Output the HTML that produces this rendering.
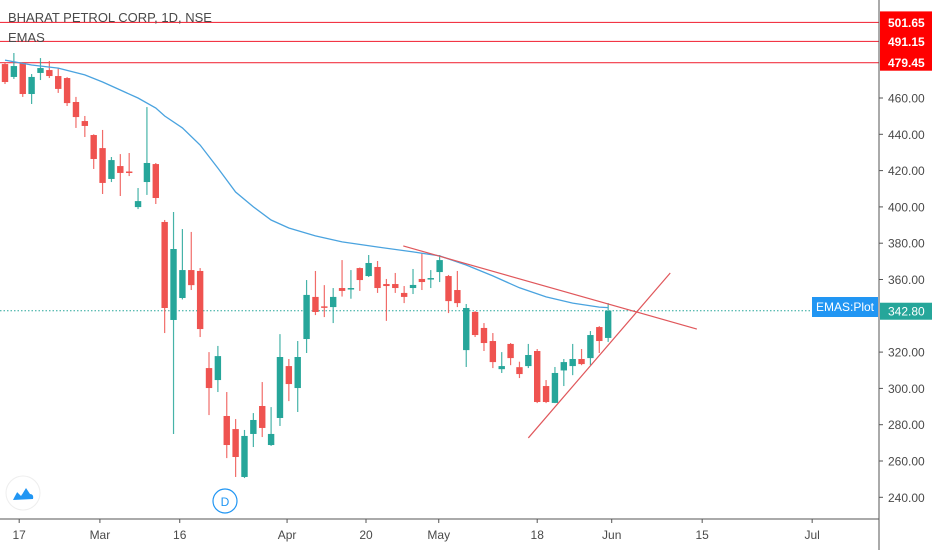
<!DOCTYPE html>
<html><head><meta charset="utf-8">
<style>
html,body{margin:0;padding:0;background:#fff;}
svg{display:block;font-family:"Liberation Sans",sans-serif;}
</style></head>
<body>
<svg id="chart" width="932" height="550" viewBox="0 0 932 550" xmlns="http://www.w3.org/2000/svg">
<rect x="0" y="0" width="932" height="550" fill="#ffffff"/>
<g id="plot"></g>
<g id="axes"></g>
<text x="8" y="22" font-size="13" fill="#4a4a4a">BHARAT PETROL CORP, 1D, NSE</text>
<text x="8" y="42" font-size="13" fill="#4a4a4a">EMAS</text>
<g>
<circle cx="23" cy="493" r="17" fill="#fff" stroke="#eeeeee" stroke-width="1"/>
<path d="M13 500 L17 492 L21 496 L26 488 L30 494 Q34 494 33 499 Z" fill="#2196f3"/>
<path d="M14 496 L18 489 L22 493 L26 486 L31 493" fill="none" stroke="#fff" stroke-width="1.6"/>
</g>
<g>
<circle cx="225" cy="501" r="12" fill="#fff" stroke="#2196f3" stroke-width="1.2"/>
<text x="225" y="506" font-size="12" fill="#2196f3" text-anchor="middle">D</text>
</g>
</svg>
<script>
// ---- data ----
const opens  = [478.7,471.6,479.3,462.2,473.8,475.4,472.1,471.0,457.8,447.3,439.6,432.4,415.4,422.5,419.5,399.9,413.7,423.6,391.7,337.7,349.8,365.2,364.7,311.2,304.6,284.8,277.6,251.2,274.9,290.3,268.8,283.7,312.3,300.2,327.2,350.4,345.2,344.8,355.3,354.7,366.3,361.9,366.9,357.5,357.5,352.6,355.3,360.3,360.3,364.1,361.9,354.2,321.1,342.1,333.3,326.1,310.6,324.5,311.7,312.3,320.6,301.3,292.0,309.9,312.3,316.2,316.7,333.8,327.8];
const highs  = [479.8,484.8,479.8,473.2,482.0,480.4,476.5,471.5,460.6,450.1,440.0,442.4,427.5,429.1,429.7,410.4,455.0,424.2,392.8,397.2,387.8,386.2,366.3,320.0,323.4,298.0,283.1,277.1,286.4,303.5,289.7,329.9,316.2,326.1,359.7,364.7,356.9,355.3,370.7,365.2,366.6,373.5,370.2,360.3,363.6,356.4,365.8,374.6,365.2,373.5,362.5,364.7,346.5,342.6,336.0,330.5,320.0,325.0,314.7,324.5,321.7,304.6,311.8,316.2,324.5,321.7,331.6,334.3,347.0];
const lows   = [467.7,470.5,460.6,456.7,469.9,471.0,462.8,455.6,443.5,438.5,420.9,407.1,413.7,406.0,417.0,398.8,406.6,401.6,330.5,274.9,349.0,354.2,328.3,285.3,298.0,261.6,251.2,250.6,267.7,273.2,268.3,279.3,293.0,287.0,319.5,340.4,339.3,336.0,350.6,349.4,353.7,361.4,352.6,337.2,352.6,347.0,352.0,354.2,355.3,358.6,341.5,344.8,311.8,328.3,320.6,311.2,308.5,312.8,305.7,311.2,291.9,291.9,291.9,301.3,307.3,312.8,312.8,319.5,325.6];
const closes = [468.8,477.6,462.2,471.6,476.5,472.1,465.0,457.2,449.5,444.6,426.4,413.2,425.8,418.7,419.0,403.2,424.2,404.9,344.3,376.8,365.2,356.9,332.7,300.2,317.8,268.8,262.2,273.8,282.6,278.2,274.9,317.3,302.4,317.3,351.5,342.1,344.8,350.4,353.7,355.3,359.7,369.1,355.3,356.4,355.3,350.4,357.0,358.6,360.8,370.7,348.1,347.0,344.3,329.4,325.0,314.5,312.3,316.7,307.9,318.4,292.5,292.5,308.5,314.5,316.2,313.4,329.4,326.1,342.8];
const emaIdx = [0,3,6,9,11,13,15,17,18,20,22,24,26,28,30,32,35,38,42,46,49,52,55,58,61,64,67,68];
const emaVal = [480.9,478.2,476.5,472.7,468.8,464.4,460.0,454.5,450.1,443.5,434.1,421.4,408.2,400.0,392.8,388.4,384.0,380.7,377.9,375.2,373.0,368.0,362.0,355.4,350.4,347.0,344.8,344.5];
const priceTicks = [460,440,420,400,380,360,320,300,280,260,240];
const levelLines = [501.65,491.15,479.45];
const dateLabels = ["17","Mar","16","Apr","20","May","18","Jun","15","Jul"];
const dateIdx = [1.6,10.7,19.7,31.8,40.7,48.9,60.0,68.4,78.6,91.0];
const fallLine = [[44.9,378.5],[78.0,332.7]];
const riseLine = [[59.0,272.7],[75.0,363.6]];
const lastPrice = 342.8;

// ---- scales ----
const X0=5, DX=8.87, Y0=98, V0=460, PPU=1.815, AXX=879, AXY=519;
const xs = i => X0 + i*DX;
const ys = v => Y0 + (V0 - v)*PPU;
const NS="http://www.w3.org/2000/svg";
const plot=document.getElementById('plot'), axes=document.getElementById('axes');
function mk(tag, attrs, parent){const e=document.createElementNS(NS,tag);for(const k in attrs)e.setAttribute(k,attrs[k]);(parent||plot).appendChild(e);return e;}

levelLines.forEach((v,k)=>{
  const l=mk('line',{x1:0,x2:AXX,y1:ys(v),y2:ys(v),stroke:'#f23645','stroke-width':1.1});
  
  
});
const pl=mk('line',{x1:0,x2:AXX,y1:ys(lastPrice),y2:ys(lastPrice),stroke:'#26a69a','stroke-width':1,'stroke-dasharray':'1.5,2'});



for(let i=0;i<closes.length;i++){
  const up=closes[i]>=opens[i], col=up?'#26a69a':'#ef5350', x=xs(i);
  const g=mk('g',{});
  
  
  mk('line',{x1:x,x2:x,y1:ys(highs[i]),y2:ys(lows[i]),stroke:col,'stroke-width':1.2,opacity:0.85},g);
  const t=ys(Math.max(opens[i],closes[i])), b=ys(Math.min(opens[i],closes[i]));
  mk('rect',{x:x-3.2,y:t,width:6.4,height:Math.max(1.5,b-t),fill:col},g);
}
let d='';
emaIdx.forEach((i,k)=>{d+=(k?'L':'M')+xs(i).toFixed(1)+' '+ys(emaVal[k]).toFixed(1);});
const ema=mk('path',{d:d,fill:'none',stroke:'#4aa3df','stroke-width':1.3});


[fallLine,riseLine].forEach((ln,k)=>{
  const t=mk('line',{x1:xs(ln[0][0]),y1:ys(ln[0][1]),x2:xs(ln[1][0]),y2:ys(ln[1][1]),stroke:'#e0575b','stroke-width':1.2});
  
  
});

const ay=mk('line',{x1:AXX,x2:AXX,y1:0,y2:550,stroke:'#555','stroke-width':1},axes);


const ax=mk('line',{x1:0,x2:AXX,y1:AXY,y2:AXY,stroke:'#555','stroke-width':1},axes);


priceTicks.forEach(v=>{
  const y=ys(v);
  mk('line',{x1:AXX,x2:AXX+4,y1:y,y2:y,stroke:'#555'},axes);
  const t=mk('text',{x:AXX+9,y:y+4.5,'font-size':12,fill:'#4a4a4a'},axes);
  t.textContent=v.toFixed(2);
  
  
});
const t340=mk('text',{x:AXX+9,y:ys(340)-1,'font-size':12,fill:'#4a4a4a'},axes);
t340.textContent='340.00';


dateLabels.forEach((s,k)=>{
  const x=xs(dateIdx[k]);
  mk('line',{x1:x,x2:x,y1:AXY,y2:AXY+4,stroke:'#555'},axes);
  const t=mk('text',{x:x,y:539,'font-size':12,fill:'#4a4a4a','text-anchor':'middle'},axes);
  t.textContent=s;
  
  
});
const lvlBg=mk('rect',{x:AXX+1,y:ys(levelLines[0])-11,width:52,height:ys(levelLines[2])-ys(levelLines[0])+19,fill:'#ff0000'},axes);


levelLines.forEach((v,k)=>{
  const y=ys(v);
  const t=mk('text',{x:AXX+9,y:y+4.5,'font-size':12,fill:'#fff','font-weight':'bold'},axes);
  t.textContent=v.toFixed(2);
  
  
});
const lg=mk('g',{},axes);


mk('rect',{x:AXX+1,y:ys(lastPrice)-8,width:52,height:17,fill:'#26a69a'},lg);
const lt=mk('text',{x:AXX+9,y:ys(lastPrice)+5,'font-size':12,fill:'#fff'},lg);
lt.textContent=lastPrice.toFixed(2);
const eg=mk('g',{},axes);


mk('rect',{x:812,y:297,width:66,height:20,fill:'#2196f3'},eg);
const et=mk('text',{x:845,y:311,'font-size':12,fill:'#fff','text-anchor':'middle'},eg);
et.textContent='EMAS:Plot';
</script>
</body></html>
